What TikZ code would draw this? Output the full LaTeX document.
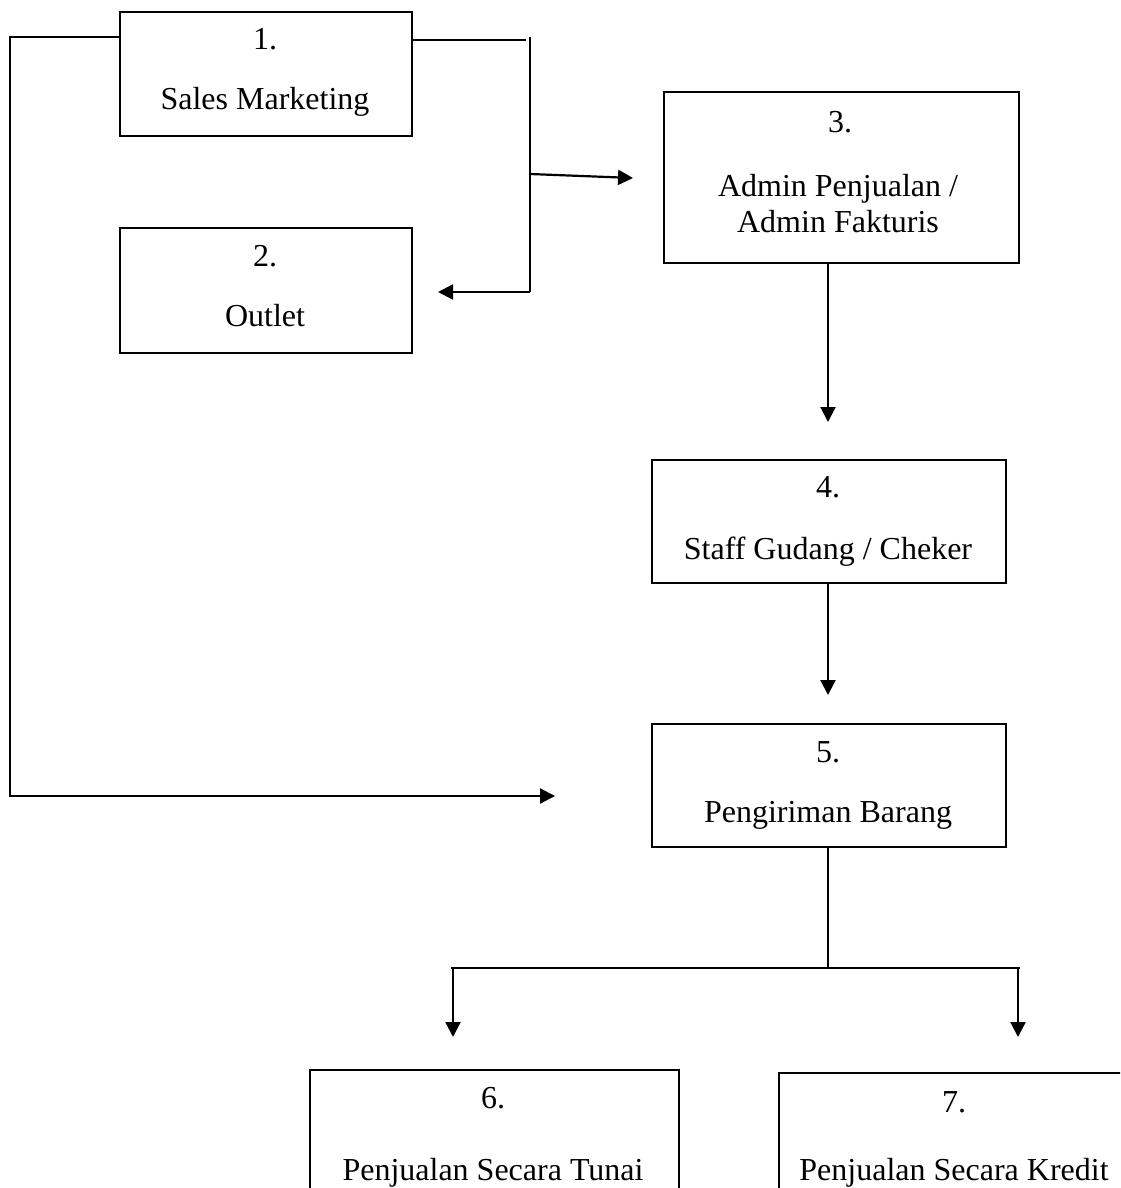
\documentclass[tikz,border=0pt]{standalone}
\usepackage{fontspec}
\setmainfont{Liberation Serif}
\usetikzlibrary{arrows.meta,calc}
\begin{document}
\begin{tikzpicture}[x=1pt,y=-1pt,
  line width=2.2pt,
  box/.style={draw, line width=2.2pt, rectangle, inner sep=0pt, anchor=north west},
  lbl/.style={anchor=base, inner sep=0pt, font=\fontsize{32}{36}\selectfont},
  arr/.style={-{Triangle[length=15pt,width=15pt]}}]
\useasboundingbox (0,0) rectangle (1120,1188);
\clip (0,0) rectangle (1120,1188);
\fill[white] (0,0) rectangle (1120,1188);

% boxes
\node[box, minimum width=292pt, minimum height=124pt] (b1) at (119,11) {};
\node[box, minimum width=292pt, minimum height=125pt] (b2) at (119,227) {};
\node[box, minimum width=355pt, minimum height=171pt] (b3) at (663,91) {};
\node[box, minimum width=354pt, minimum height=123pt] (b4) at (651,459) {};
\node[box, minimum width=354pt, minimum height=123pt] (b5) at (651,723) {};
\node[box, minimum width=369pt, minimum height=124pt] (b6) at (309,1069) {};
\node[box, minimum width=352pt, minimum height=124pt] (b7) at (778,1072) {};

% texts
\node[lbl] (t1a) at (265,50) {1.};
\node[lbl] (t1b) at (265,110) {Sales Marketing};
\node[lbl] (t2a) at (265,266) {2.};
\node[lbl] (t2b) at (265,326) {Outlet};
\node[lbl] (t3a) at (840,132) {3.};
\node[lbl] (t3b) at (838,196) {Admin Penjualan /};
\node[lbl] (t3c) at (838,232) {Admin Fakturis};
\node[lbl] (t4a) at (828,497) {4.};
\node[lbl] (t4b) at (828,559) {Staff Gudang / Cheker};
\node[lbl] (t5a) at (828,762) {5.};
\node[lbl] (t5b) at (828,822) {Pengiriman Barang};
\node[lbl] (t6a) at (493,1108) {6.};
\node[lbl] (t6b) at (493,1180) {Penjualan Secara Tunai};
\node[lbl] (t7a) at (954,1112) {7.};
\node[lbl] (t7b) at (954,1180) {Penjualan Secara Kredit};

% coordinates for connector ends
\coordinate (lc1) at (10,37);
\coordinate (lc2) at (10,796);
\coordinate (lend) at (555,796);
\coordinate (rtop) at (526,40);
\coordinate (vtop) at (530,37);
\coordinate (vbot) at (530,292);
\coordinate (vmid) at (530,174);
\coordinate (to3) at (633,178);
\coordinate (to2) at (438,292);
\coordinate (tip4) at (828,422);
\coordinate (tip5) at (828,695);
\coordinate (split) at (828,968);
\coordinate (hl) at (451,968);
\coordinate (hr) at (1020,968);
\coordinate (d6s) at (453,968);
\coordinate (d6e) at (453,1037);
\coordinate (d7s) at (1018,968);
\coordinate (d7e) at (1018,1037);

% connectors
\draw[arr] (b1.west |- lc1) -- (lc1) -- (lc2) -- (lend);
\draw (b1.east |- rtop) -- (rtop);
\draw (vtop) -- (vbot);
\draw[arr] (vbot) -- (to2);
\draw[arr] (vmid) -- (to3);
\draw[arr] (b3.south -| tip4) -- (tip4);
\draw[arr] (b4.south -| tip5) -- (tip5);
\draw (b5.south -| split) -- (split);
\draw (hl) -- (hr);
\draw[arr] (d6s) -- (d6e);
\draw[arr] (d7s) -- (d7e);
\end{tikzpicture}
\end{document}
